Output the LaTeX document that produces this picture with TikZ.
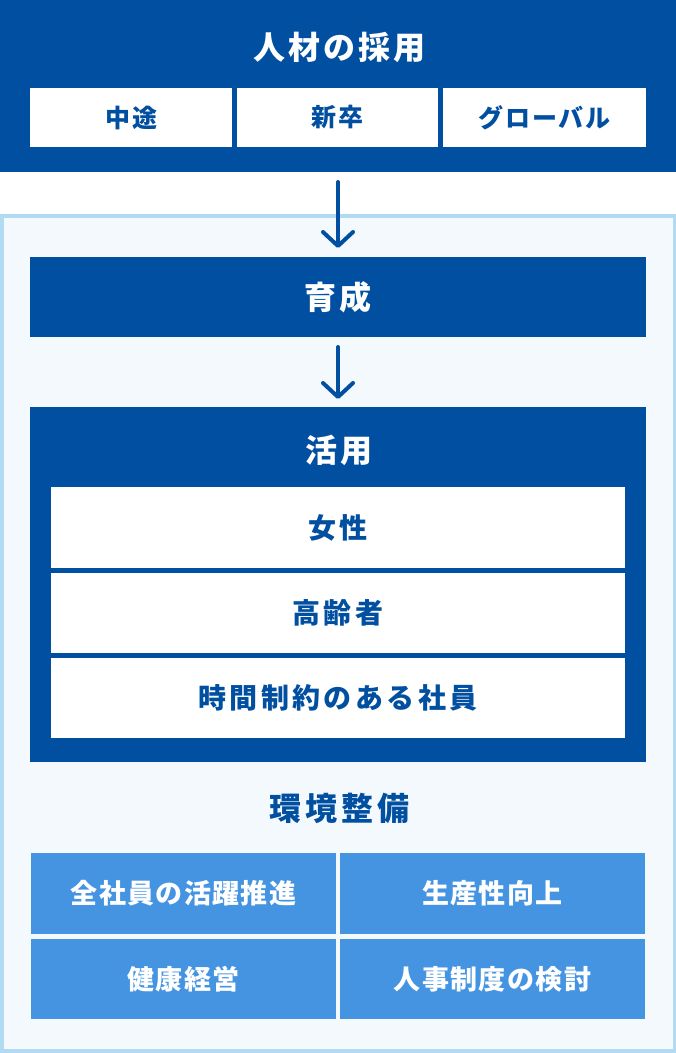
\documentclass[tikz,border=0pt]{standalone}
\usepackage{fontspec}
\newfontfamily\jp{Noto Sans CJK JP}
\newfontfamily\jpA{Noto Sans CJK JP}[LetterSpace=10]
\newfontfamily\jpB{Noto Sans CJK JP}[LetterSpace=12]
\newfontfamily\jpC{Noto Sans CJK JP}[LetterSpace=8]
\newfontfamily\jpD{Noto Sans CJK JP}[LetterSpace=5]
\usetikzlibrary{arrows.meta}
\definecolor{dkblue}{HTML}{004FA0}
\definecolor{mdblue}{HTML}{4594E2}
\definecolor{ltborder}{HTML}{B2DBF3}
\definecolor{ltfill}{HTML}{F4F9FE}
\tikzset{
  dkbox/.style={fill=dkblue, draw=none, inner sep=0pt, outer sep=0pt},
  whbox/.style={fill=white, draw=none, inner sep=0pt, outer sep=0pt, text=dkblue},
  mdbox/.style={fill=mdblue, draw=none, inner sep=0pt, outer sep=0pt, text=white},
  bigw/.style={text=white, font=\jpA\bfseries\fontsize{32}{36}\selectfont, inner sep=0pt},
  bigwb/.style={text=white, font=\jpC\bfseries\fontsize{32}{36}\selectfont, inner sep=0pt},
  bigd/.style={text=dkblue, font=\jpB\bfseries\fontsize{32}{36}\selectfont, inner sep=0pt},
  subtxt/.style={font=\jpC\bfseries\fontsize{25}{30}\selectfont},
  midtxt/.style={font=\jpB\bfseries\fontsize{28}{32}\selectfont},
  bottxt/.style={font=\jpD\bfseries\fontsize{27}{32}\selectfont},
  flow/.style={draw=dkblue, line width=4pt, line cap=round,
    -{Straight Barb[length=14pt,width=30pt,line cap=round,line join=round]}},
}
\begin{document}
\begin{tikzpicture}[x=1pt,y=-1pt]
\useasboundingbox (0,0) rectangle (676,1053);
% outer light frame
\node[draw=ltborder, fill=ltfill, line width=3.5pt, minimum width=672.5pt, minimum height=835pt, inner sep=0pt] (frame) at (338,633.5) {};
% recruitment
\node[dkbox, minimum width=676pt, minimum height=172pt] (rec) at (338,86) {};
\node[bigw] (rect) at (339.5,47) {人材の採用};
\node[whbox, subtxt, minimum width=202pt, minimum height=59pt] (chuto) at (131,117.5) {中途};
\node[whbox, subtxt, minimum width=201pt, minimum height=59pt] (shinsotsu) at (337.5,117.5) {新卒};
\node[whbox, subtxt, minimum width=203pt, minimum height=59pt] (global) at (544.5,117.5) {グローバル};
% training
\node[dkbox, bigwb, minimum width=616pt, minimum height=80pt] (ikusei) at (338,297) {育成};
% utilisation
\node[dkbox, minimum width=616pt, minimum height=355pt] (katsuyo) at (338,584.5) {};
\node[bigwb] (katsuyot) at (339,450) {活用};
\node[whbox, midtxt, minimum width=574pt, minimum height=81pt] (josei) at (338,527.5) {女性};
\node[whbox, midtxt, minimum width=574pt, minimum height=80pt] (koreisha) at (338,613) {高齢者};
\node[whbox, midtxt, minimum width=574pt, minimum height=80pt] (jikan) at (338,698) {時間制約のある社員};
% environment
\node[bigd] (kankyo) at (339.5,808) {環境整備};
\node[mdbox, bottxt, minimum width=305pt, minimum height=81pt] (e1) at (183.5,893.5) {全社員の活躍推進};
\node[mdbox, bottxt, minimum width=305pt, minimum height=81pt] (e2) at (492.5,893.5) {生産性向上};
\node[mdbox, bottxt, minimum width=305pt, minimum height=80pt] (e3) at (183.5,979) {健康経営};
\node[mdbox, bottxt, minimum width=305pt, minimum height=80pt] (e4) at (492.5,979) {人事制度の検討};
% arrows
\draw[flow, shorten <=10pt, shorten >=9pt] (rec.south) -- (ikusei.north);
\draw[flow, shorten <=10pt, shorten >=8pt] (ikusei.south) -- (katsuyo.north);
\end{tikzpicture}
\end{document}
